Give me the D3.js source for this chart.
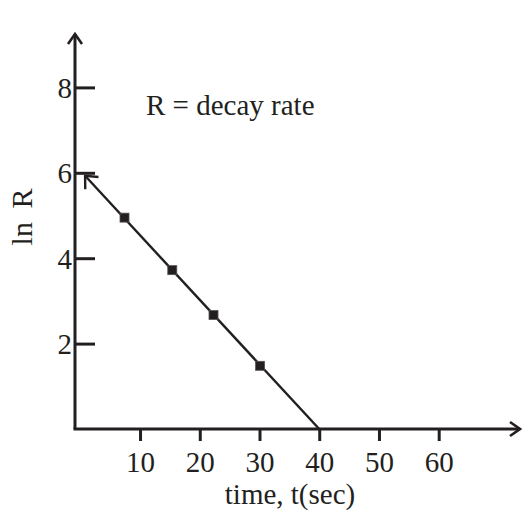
<!DOCTYPE html>
<html lang="en">
<head>
    <meta charset="UTF-8">
    <title>ln R vs time</title>
    <script src="https://d3js.org/d3.v7.min.js"></script>
    <style>
        body {
            margin: 0;
            background: #fff;
        }
        svg text {
            font-family: "Liberation Serif", "Times New Roman", serif;
            fill: #231f20;
        }
    </style>
</head>
<body>
<div id="chart"></div>
<script>
// measured points
const times = [7.4, 15.4, 22.3, 30.1];
const lnR = [4.95, 3.72, 2.67, 1.48];
// fitted line, drawn from the x-axis up to the arrow tip
const fitT = [40, 0.8];
const fitLnR = [0, 5.93];

const xTicks = [10, 20, 30, 40, 50, 60];
const yTicks = [2, 4, 6, 8];

const width = 522, height = 513;
const ink = "#231f20";
const originX = 75, originY = 429;

const svg = d3.select("#chart")
  .append("svg")
  .attr("width", width)
  .attr("height", height);

const x = d3.scaleLinear().domain([0, 60]).range([80.3, 438.7]);
const y = d3.scaleLinear().domain([0, 8]).range([originY, 87.4]);

// open arrowhead
const defs = svg.append("defs");
function arrow(id, len, half, sw) {
    defs.append("marker")
      .attr("id", id)
      .attr("markerUnits", "userSpaceOnUse")
      .attr("viewBox", `${-len - 2} ${-half - 2} ${len + 4} ${2 * half + 4}`)
      .attr("refX", 0).attr("refY", 0)
      .attr("markerWidth", len + 4)
      .attr("markerHeight", 2 * half + 4)
      .attr("orient", "auto-start-reverse")
      .append("path")
      .attr("d", `M${-len},${-half}L0,0L${-len},${half}`)
      .attr("fill", "none")
      .attr("stroke", ink)
      .attr("stroke-width", sw);
}
arrow("axisArrow", 10, 7, 2.6);
arrow("lineArrow", 10, 9, 2.4);

// axis lines with arrows
svg.append("line")
  .attr("x1", originX).attr("y1", originY)
  .attr("x2", originX).attr("y2", 34)
  .attr("stroke", ink).attr("stroke-width", 3)
  .attr("marker-end", "url(#axisArrow)");
svg.append("line")
  .attr("x1", originX - 1.5).attr("y1", originY)
  .attr("x2", 520).attr("y2", originY)
  .attr("stroke", ink).attr("stroke-width", 3)
  .attr("marker-end", "url(#axisArrow)");

// x axis ticks
const xAxis = svg.append("g")
  .attr("transform", `translate(0,${originY})`)
  .call(d3.axisBottom(x).tickValues(xTicks).tickSize(12).tickFormat(d3.format("d")));
xAxis.select(".domain").remove();
xAxis.selectAll(".tick line").attr("stroke", ink).attr("stroke-width", 3);
xAxis.selectAll(".tick text")
  .attr("y", 43).attr("dy", 0)
  .style("font-size", "29px");

// y axis ticks, drawn inward
const yAxis = svg.append("g")
  .attr("transform", `translate(${originX},0)`)
  .call(d3.axisLeft(y).tickValues(yTicks).tickSize(-20).tickPadding(3));
yAxis.select(".domain").remove();
yAxis.selectAll(".tick line").attr("stroke", ink).attr("stroke-width", 3);
yAxis.selectAll(".tick text")
  .attr("dy", "0.34em")
  .style("font-size", "29px");

// fitted line
const line = d3.line().x(d => x(d[0])).y(d => y(d[1]));
svg.append("path")
  .datum(d3.zip(fitT, fitLnR))
  .attr("d", line)
  .attr("fill", "none")
  .attr("stroke", ink)
  .attr("stroke-width", 2.4)
  .attr("marker-end", "url(#lineArrow)");

// data points
const sq = 9;
svg.append("g")
  .selectAll("rect")
  .data(d3.zip(times, lnR))
  .join("rect")
  .attr("x", d => x(d[0]) - sq / 2)
  .attr("y", d => y(d[1]) - sq / 2)
  .attr("width", sq)
  .attr("height", sq)
  .attr("fill", ink)
  .attr("stroke", "#555")
  .attr("stroke-width", 0.8);

// labels
svg.append("text")
  .attr("x", 290).attr("y", 504)
  .attr("text-anchor", "middle")
  .style("font-size", "29px")
  .text("time, t(sec)");

svg.append("text")
  .attr("transform", "translate(32,217) rotate(-90)")
  .attr("text-anchor", "middle")
  .style("font-size", "30px")
  .style("word-spacing", "6px")
  .text("ln R");

svg.append("text")
  .attr("x", 146).attr("y", 115)
  .style("font-size", "29px")
  .text("R = decay rate");
</script>
</body>
</html>
